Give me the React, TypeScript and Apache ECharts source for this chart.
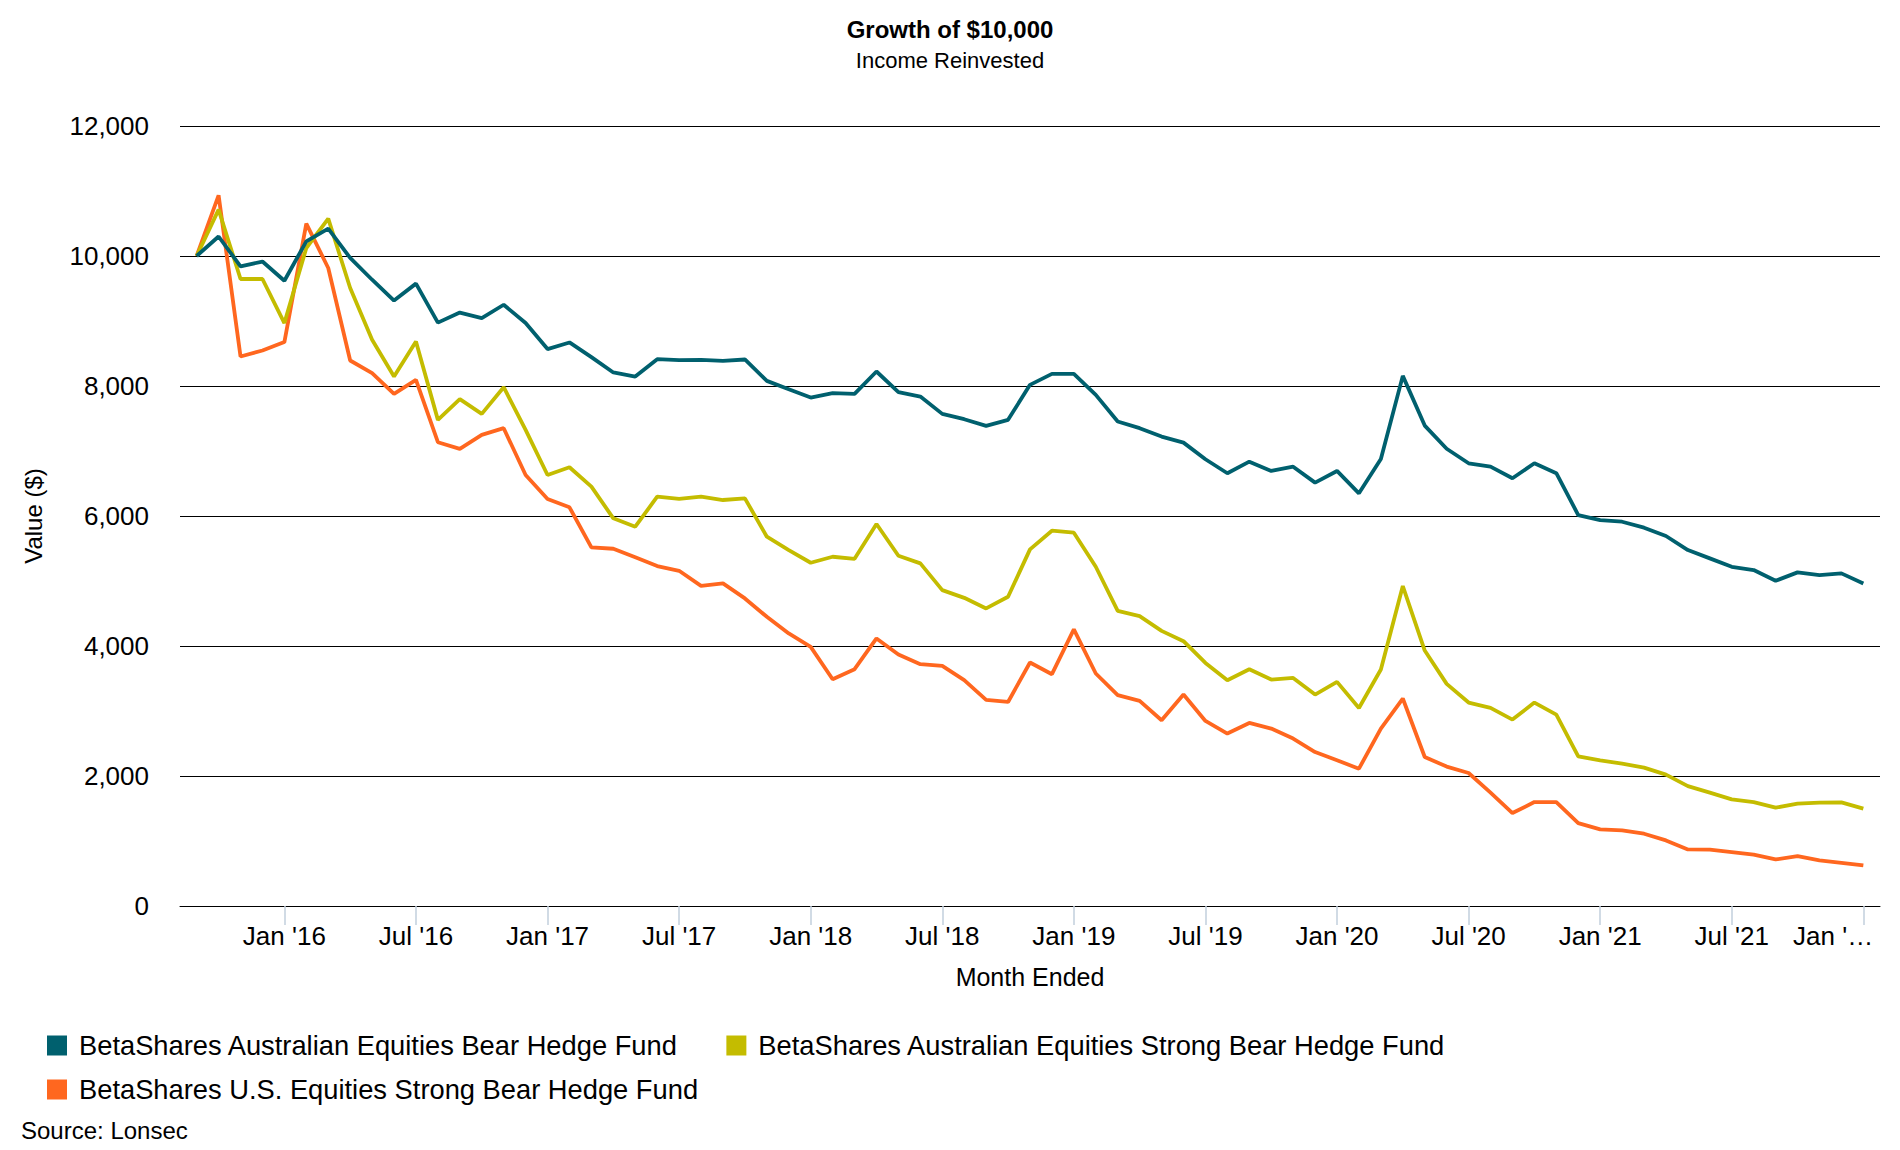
import React, { useEffect, useRef } from "react";
import * as echarts from "echarts";

const TITLE = "Growth of $10,000";
const SUBTITLE = "Income Reinvested";
const SOURCE = "Source: Lonsec";
const X_NAME = "Month Ended";
const Y_NAME = "Value ($)";

const SERIES_NAMES = [
  "BetaShares Australian Equities Bear Hedge Fund",
  "BetaShares Australian Equities Strong Bear Hedge Fund",
  "BetaShares U.S. Equities Strong Bear Hedge Fund",
];
const COLORS = ["#00606E", "#C4BC00", "#FF671F"];

// month index (0 = first month shown) where each tick label sits
const TICK_POSITIONS = [4, 10, 16, 22, 28, 34, 40, 46, 52, 58, 64, 70, 76];
const TICK_LABELS = [
  "Jan '16", "Jul '16", "Jan '17", "Jul '17", "Jan '18", "Jul '18", "Jan '19",
  "Jul '19", "Jan '20", "Jul '20", "Jan '21", "Jul '21", "Jan '22",
];

const Y_TICKS = [0, 2000, 4000, 6000, 8000, 10000, 12000];

const bearFund = [
  10000, 10300, 9840, 9915, 9620, 10225, 10420, 9970, 9635, 9315, 9575, 8975,
  9130, 9045, 9250, 8968, 8568, 8670, 8444, 8208, 8146, 8413, 8398, 8403,
  8387, 8408, 8079, 7951, 7822, 7890, 7879, 8223, 7905, 7838, 7571, 7489,
  7386, 7479, 8018, 8187, 8187, 7864, 7453, 7351, 7222, 7129, 6873, 6658,
  6836, 6693, 6759, 6513, 6693, 6349, 6878, 8156, 7391, 7035, 6811, 6759,
  6580, 6811, 6658, 6015, 5938, 5912, 5820, 5692, 5476, 5348, 5219, 5168,
  5003, 5133, 5091, 5117, 4963,
];

const strongBearFund = [
  10000, 10714, 9646, 9646, 8968, 10123, 10575, 9507, 8711, 8146, 8685, 7479,
  7797, 7571, 7982, 7325, 6631, 6750, 6451, 5964, 5835, 6297, 6262, 6297,
  6246, 6272, 5681, 5476, 5281, 5373, 5342, 5877, 5388, 5271, 4860, 4741,
  4578, 4757, 5487, 5774, 5743, 5219, 4541, 4459, 4233, 4074, 3740, 3474,
  3643, 3484, 3509, 3253, 3448, 3047, 3638, 4922, 3930, 3418, 3130, 3047,
  2868, 3130, 2945, 2303, 2241, 2190, 2129, 2021, 1845, 1744, 1641, 1599,
  1513, 1574, 1590, 1594, 1497,
];

const usStrongBearFund = [
  10000, 10934, 8454, 8546, 8676, 10498, 9815, 8392, 8198, 7879, 8095, 7135,
  7032, 7248, 7351, 6631, 6262, 6134, 5518, 5496, 5364, 5230, 5157, 4926,
  4963, 4732, 4449, 4193, 3987, 3489, 3643, 4116, 3870, 3720, 3694, 3474,
  3170, 3139, 3746, 3566, 4255, 3577, 3243, 3155, 2857, 3253, 2847, 2653,
  2816, 2730, 2576, 2369, 2241, 2113, 2730, 3192, 2292, 2145, 2046, 1744,
  1430, 1599, 1599, 1275, 1178, 1163, 1112, 1009, 870, 866, 829, 789,
  716, 767, 701, 665, 624,
];

const ALL_VALUES = [bearFund, strongBearFund, usStrongBearFund];

const FONT = "'Liberation Sans', Arial, Helvetica, sans-serif";

export default function App() {
  const ref = useRef<HTMLDivElement>(null);

  useEffect(() => {
    document.body.style.margin = "0";
    if (!ref.current) return;
    const chart = echarts.init(ref.current, undefined, { renderer: "svg" });
    const n = bearFund.length;
    const pad = 0.76;
    // the truncated last label sits a little right of its tick, as in the source
    const lastNudge = 0.45;
    const labelValues = TICK_POSITIONS.map((p, i) =>
      i === TICK_POSITIONS.length - 1 ? p + lastNudge : p
    );

    const labelFor = (v: number) => {
      const idx = TICK_POSITIONS.indexOf(Math.round(v));
      if (idx < 0) return "";
      const s = TICK_LABELS[idx];
      if (idx === TICK_LABELS.length - 1) return s.slice(0, 5) + "\u2026";
      return s;
    };

    const legendCommon = {
      icon: "rect",
      itemWidth: 20,
      itemHeight: 20,
      itemGap: 48,
      left: 42,
      orient: "horizontal",
      selectedMode: false,
      textStyle: { fontSize: 27.3, color: "#000", fontFamily: FONT, padding: [0, 0, 0, 7] },
    };

    chart.setOption({
      animation: false,
      backgroundColor: "#fff",
      textStyle: { fontFamily: FONT },
      title: {
        text: TITLE,
        subtext: SUBTITLE,
        left: "center",
        top: 12,
        itemGap: 8,
        textStyle: { fontSize: 24, fontWeight: "bold", color: "#000", fontFamily: FONT },
        subtextStyle: { fontSize: 22, color: "#000", fontFamily: FONT },
      },
      grid: { left: 180, right: 20, top: 126, bottom: 244, containLabel: false },
      legend: [
        { ...legendCommon, top: 1027, data: [SERIES_NAMES[0], SERIES_NAMES[1]] },
        { ...legendCommon, top: 1071, data: [SERIES_NAMES[2]] },
      ],
      xAxis: {
        type: "value",
        min: -pad,
        max: n - 1 + pad,
        name: X_NAME,
        nameLocation: "middle",
        nameGap: 58,
        nameTextStyle: { fontSize: 25, color: "#000", fontFamily: FONT },
        axisLine: { show: true, lineStyle: { color: "#000", width: 1 } },
        axisTick: {
          show: true,
          customValues: TICK_POSITIONS,
          length: 19,
          lineStyle: { color: "#C2CFDD", width: 1.5 },
        },
        axisLabel: {
          customValues: labelValues,
          formatter: labelFor,
          margin: 17,
          fontSize: 26,
          color: "#000",
          fontFamily: FONT,
          alignMaxLabel: "right",
        },
        splitLine: { show: false },
      },
      yAxis: {
        type: "value",
        min: Y_TICKS[0],
        max: Y_TICKS[Y_TICKS.length - 1],
        interval: Y_TICKS[1] - Y_TICKS[0],
        name: Y_NAME,
        nameLocation: "middle",
        nameGap: 135,
        nameTextStyle: { fontSize: 24, color: "#000", fontFamily: FONT },
        axisLine: { show: false },
        axisTick: { show: false },
        axisLabel: {
          margin: 31,
          fontSize: 26,
          color: "#000",
          fontFamily: FONT,
          formatter: (v: number) => v.toLocaleString("en-US"),
        },
        splitLine: { show: true, lineStyle: { color: "#000", width: 1 } },
      },
      graphic: [
        {
          type: "text",
          left: 21,
          top: 1118,
          style: { text: SOURCE, fontSize: 24, fill: "#000", fontFamily: FONT },
        },
      ],
      series: ALL_VALUES.map((vals, k) => ({
        name: SERIES_NAMES[k],
        type: "line",
        showSymbol: false,
        symbol: "none",
        color: COLORS[k],
        lineStyle: { width: 3.8, color: COLORS[k] },
        data: vals.map((v, i) => [i, v]),
        z: 3 + (2 - k),
      })),
    });

    return () => chart.dispose();
  }, []);

  return <div ref={ref} style={{ width: 1900, height: 1150 }} />;
}
